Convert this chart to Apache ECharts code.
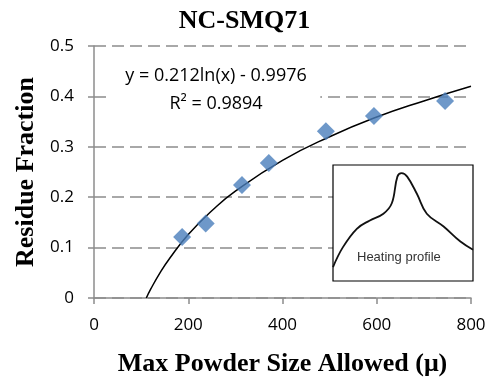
<!DOCTYPE html>
<html lang="en">
<head>
    <meta charset="UTF-8">
    <title>NC-SMQ71</title>
    <script src="https://cdn.jsdelivr.net/npm/echarts@6/dist/echarts.min.js"></script>
    <style>
        html, body { margin: 0; padding: 0; background: #fff; }
        #main { width: 489px; height: 378px; }
    </style>
</head>
<body>
<div id="main"></div>
<script>
    // measured points (max powder size, residue fraction)
    var powderSize = [187, 237, 314, 371, 492, 594, 745];
    var residue = [0.121, 0.148, 0.224, 0.268, 0.331, 0.361, 0.391];

    // log trendline
    var trendX = [111, 120, 140, 160, 200, 250, 300, 400, 500, 600, 700, 800];
    var trendY = [0, 0.017, 0.050, 0.078, 0.126, 0.173, 0.212, 0.273, 0.320, 0.359, 0.391, 0.420];

    // inset "heating profile" curve (relative units)
    var heatX = [0, 0.07, 0.17, 0.26, 0.36, 0.42, 0.46, 0.49, 0.53, 0.60, 0.67, 0.79, 0.91, 1];
    var heatY = [0.12, 0.29, 0.45, 0.52, 0.58, 0.67, 0.90, 0.93, 0.90, 0.75, 0.58, 0.47, 0.34, 0.27];

    function pairs(a, b) {
        var out = [];
        for (var i = 0; i < a.length; i++) out.push([a[i], b[i]]);
        return out;
    }

    var chart = echarts.init(document.getElementById('main'));
    var tickFont = { fontFamily: 'Open Sans', fontSize: 17, color: '#000' };
    var boldSerif = { fontFamily: 'Liberation Serif', fontWeight: 'bold', fontSize: 26, color: '#000' };
    var option = {
        backgroundColor: '#fff',
        animation: false,
        title: [
            {
                text: 'NC-SMQ71', left: 'center', top: 8, padding: 0,
                textStyle: boldSerif
            },
            {
                // white box behind the equation, hides the 0.4 gridline
                text: ' ', left: 110, top: 64, width: 210, height: 50,
                backgroundColor: '#fff', padding: [0, 210, 50, 0],
                textStyle: { fontSize: 1 }
            },
            {
                text: 'y = 0.212ln(x) - 0.9976', left: 216, top: 67, textAlign: 'center', padding: 0,
                textStyle: { fontFamily: 'Open Sans', fontSize: 18, fontWeight: 'normal', color: '#000' }
            },
            {
                text: 'R² = 0.9894', left: 216, top: 95, textAlign: 'center', padding: 0,
                textStyle: { fontFamily: 'Open Sans', fontSize: 18, fontWeight: 'normal', color: '#000' }
            },
            {
                text: 'Heating profile', left: 357, top: 251, padding: 0,
                textStyle: { fontFamily: 'Liberation Sans', fontSize: 13, fontWeight: 'normal', color: '#333' }
            }
        ],
        grid: [
            { left: 94, right: 18, top: 46, bottom: 80, outerBoundsMode: 'none', containLabel: false },
            { left: 333, top: 165, width: 140, height: 116, show: true, backgroundColor: '#fff', borderColor: '#000', borderWidth: 1.2, z: 3, outerBoundsMode: 'none' }
        ],
        xAxis: [
            {
                type: 'value', min: 0, max: 800, interval: 200,
                name: 'Max Powder Size Allowed (μ)', nameLocation: 'middle', nameGap: 53,
                nameTextStyle: boldSerif,
                axisLine: { lineStyle: { color: '#8c8c8c', width: 1.5 } },
                axisTick: { show: true, length: 6, lineStyle: { color: '#8c8c8c', width: 1.5 } },
                axisLabel: Object.assign({ margin: 19 }, tickFont),
                splitLine: { show: false }
            },
            { gridIndex: 1, type: 'value', min: 0, max: 1, show: false }
        ],
        yAxis: [
            {
                type: 'value', min: 0, max: 0.5, interval: 0.1,
                name: 'Residue Fraction', nameLocation: 'middle', nameGap: 55,
                nameTextStyle: boldSerif,
                axisLine: { show: true, lineStyle: { color: '#8c8c8c', width: 1.5 } },
                axisTick: { show: true, length: 6, lineStyle: { color: '#8c8c8c', width: 1.5 } },
                axisLabel: Object.assign({ margin: 20, formatter: function (v) { return v === 0 ? '0' : v.toFixed(1); } }, tickFont),
                splitLine: { show: true, lineStyle: { color: '#8c8c8c', width: 1.5, type: [12, 6] } }
            },
            { gridIndex: 1, type: 'value', min: 0, max: 1, show: false }
        ],
        series: [
            {
                name: 'trend', type: 'line', smooth: true, symbol: 'none',
                data: pairs(trendX, trendY),
                lineStyle: { color: '#000', width: 1.5 }, z: 2
            },
            {
                name: 'data', type: 'scatter', symbol: 'diamond', symbolSize: 18,
                data: pairs(powderSize, residue),
                itemStyle: { color: '#4A7EBB' }, z: 2
            },
            {
                name: 'heating', type: 'line', smooth: 0.4, symbol: 'none',
                xAxisIndex: 1, yAxisIndex: 1,
                data: pairs(heatX, heatY),
                lineStyle: { color: '#111', width: 1.8 }, z: 5
            }
        ]
    };
    chart.setOption(option);
</script>
</body>
</html>
